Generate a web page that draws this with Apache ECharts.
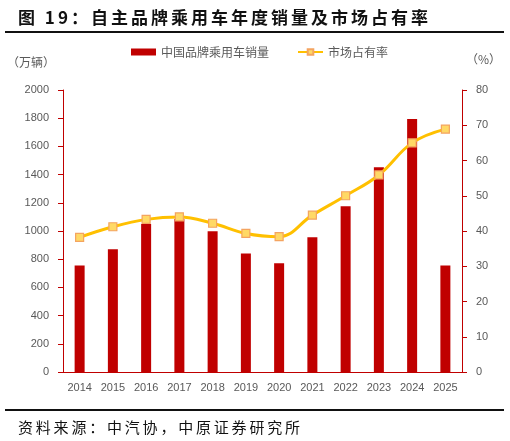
<!DOCTYPE html>
<html><head><meta charset="utf-8">
<script src="https://cdn.jsdelivr.net/npm/echarts@6/dist/echarts.min.js"></script>
<style>html,body{margin:0;padding:0;background:#fff}#c{width:510px;height:441px;position:relative}
.t{position:absolute;left:18px;top:4px;font:bold 17px "Noto Sans CJK SC";color:#111;letter-spacing:3px}
.l1{position:absolute;left:5px;right:6px;top:31px;height:2px;background:#111}
.l2{position:absolute;left:5px;right:6px;top:409px;height:2px;background:#111}
.s{position:absolute;left:18px;top:416px;font:15px "Noto Sans CJK SC";color:#111;letter-spacing:2.8px}
#ch{position:absolute;left:0;top:0;width:510px;height:441px}
</style></head><body><div id="c"><div id="ch"></div>
<div class="t">图 19：自主品牌乘用车年度销量及市场占有率</div><div class="l1"></div><div class="l2"></div>
<div class="s">资料来源：中汽协，中原证券研究所</div></div>
<script>
const years = ['2014','2015','2016','2017','2018','2019','2020','2021','2022','2023','2024','2025'];
const sales = [755, 870, 1050, 1085, 998, 840, 772, 955, 1175, 1452, 1794, 755];
const share = [38.2, 41.2, 43.3, 44.0, 42.2, 39.3, 38.4, 44.5, 50.0, 55.9, 65.0, 68.9];
const leftTicks = [0, 2000, 200];
const rightTicks = [0, 80, 10];
const chart = echarts.init(document.getElementById('ch'));
const red = '#C00000';
const grey = '#595959';
chart.setOption({
  animation:false,
  grid:{left:63,right:48,top:90,bottom:69},
  legend:{top:41,left:126,itemGap:28,textStyle:{color:grey,fontSize:12,fontFamily:'Noto Sans CJK SC'},itemWidth:25,itemHeight:7,
    data:[{name:'中国品牌乘用车销量',icon:'rect'},{name:'市场占有率'}]},
  xAxis:{type:'category',data:years,axisLine:{lineStyle:{color:red}},axisTick:{lineStyle:{color:red}},
    axisLabel:{color:grey,fontSize:11,fontFamily:'Liberation Sans',margin:10}},
  yAxis:[{type:'value',min:leftTicks[0],max:leftTicks[1],interval:leftTicks[2],name:'（万辆）',nameLocation:'end',
      nameGap:22,nameTextStyle:{color:grey,fontSize:12,align:'right',padding:[0,8,0,0],fontFamily:'Noto Sans CJK SC'},
      axisLine:{show:true,lineStyle:{color:red}},axisTick:{show:true,lineStyle:{color:red}},splitLine:{show:false},
      axisLabel:{color:grey,fontSize:11,fontFamily:'Liberation Sans',margin:14,formatter:v=>String(v)}},
    {type:'value',min:rightTicks[0],max:rightTicks[1],interval:rightTicks[2],name:'（%）',nameLocation:'end',
      nameGap:25,nameTextStyle:{color:grey,fontSize:12,align:'left',padding:[0,0,0,4],fontFamily:'Noto Sans CJK SC'},
      axisLine:{show:true,lineStyle:{color:red}},axisTick:{show:true,lineStyle:{color:red}},splitLine:{show:false},
      axisLabel:{color:grey,fontSize:11,fontFamily:'Liberation Sans',margin:14}}],
  series:[
    {name:'中国品牌乘用车销量',type:'bar',data:sales,barWidth:10,itemStyle:{color:red}},
    {name:'市场占有率',type:'line',yAxisIndex:1,data:share,smooth:0.4,symbol:'rect',symbolSize:8,
      lineStyle:{color:'#FFC000',width:3},itemStyle:{color:'#FFD966',borderColor:'#F4A460',borderWidth:1.2},z:5}
  ]
});
</script></body></html>
